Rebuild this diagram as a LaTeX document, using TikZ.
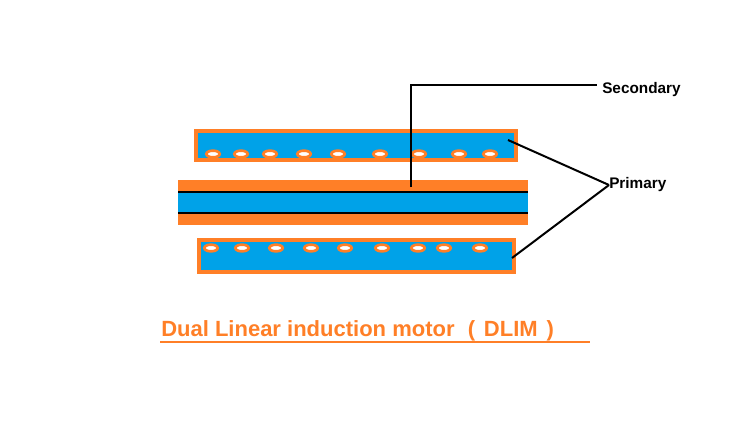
\documentclass[tikz,border=0pt]{standalone}
\usepackage{fontspec}
\setmainfont{Liberation Sans}
\usetikzlibrary{shapes.geometric}
\definecolor{blu}{RGB}{0,162,232}
\definecolor{org}{RGB}{255,127,39}
\begin{document}
\begin{tikzpicture}[x=0.75pt,y=-0.75pt,
  prim/.style={fill=blu,draw=org,line width=2.5pt},
  slot/.style={ellipse,fill=white,draw=org,line width=2pt,minimum width=10pt,minimum height=5pt,inner sep=0pt},
  lead/.style={line width=1.5pt},
  lbl/.style={font=\bfseries\fontsize{11.5}{13}\selectfont,anchor=west,inner sep=0pt}]
\useasboundingbox (0,0) rectangle (733,421);
\draw[prim] (196,131) rectangle (516,160);
\draw[prim] (199,240) rectangle (514,272);
\fill[org] (178,180) rectangle (528,225);
\fill[blu] (178,192) rectangle (528,213);
\draw[line width=1.2pt] (178,192) -- (528,192);
\draw[line width=0.8pt] (178,213) -- (528,213);
\foreach \x [count=\i] in {213,241,270,304,338,380,419,459,490}
  \node[slot] (t\i) at (\x,154) {};
\foreach \x [count=\i] in {211,242,276,311,345,382,418,444,480}
  \node[slot] (b\i) at (\x,248) {};
\coordinate (s0) at (411,187);
\coordinate (s1) at (411,85);
\coordinate (s2) at (597,85);
\draw[lead] (s0) -- (s1) -- (s2);
\node[lbl] (sec) at (602,90) {Secondary};
\node[lbl] (pri) at (609,185) {Primary};
\coordinate (p1) at (508,140);
\coordinate (p2) at (512,258);
\draw[lead] (p1) -- (pri.west);
\draw[lead] (p2) -- (pri.west);
\node[font=\bfseries\fontsize{16.5}{18}\selectfont,text=org,anchor=west,inner sep=0pt] (title) at (161,331) {Dual Linear induction motor\hspace{0.6em}(\hspace{0.4em}DLIM\hspace{0.4em})};
\draw[org,line width=0.8pt] (160,342) -- (590,342);
\end{tikzpicture}
\end{document}
